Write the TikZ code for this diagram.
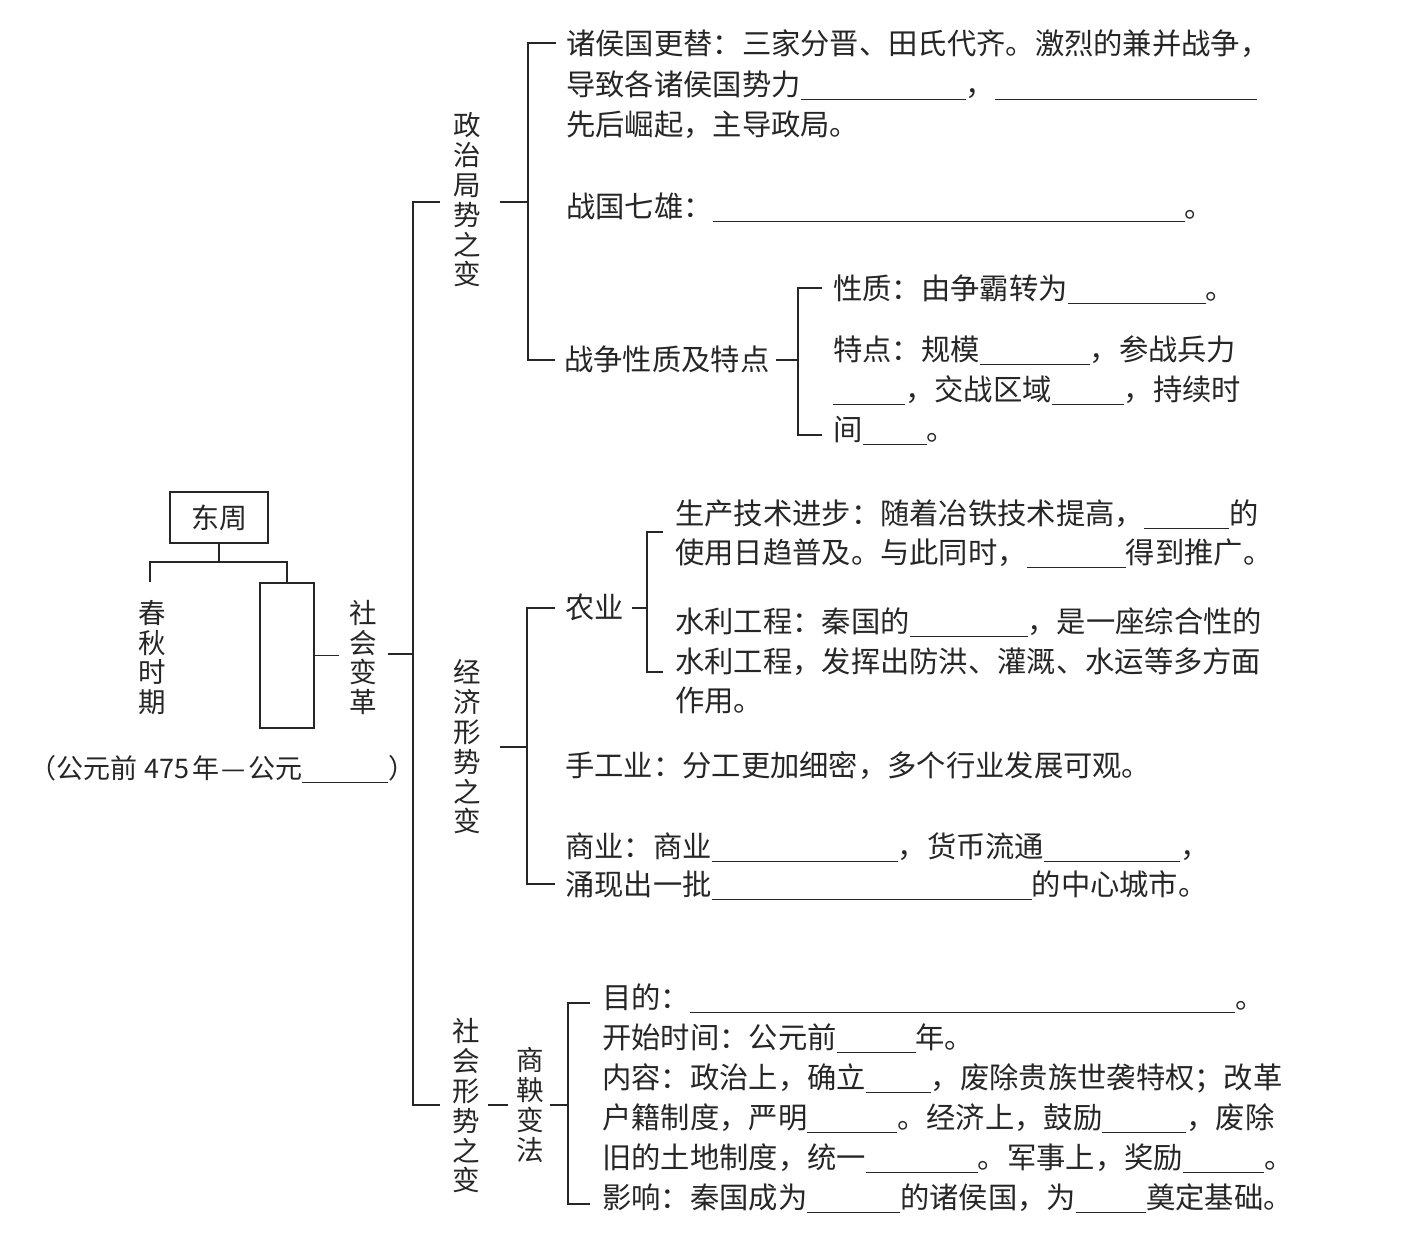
\documentclass[tikz,border=0pt]{standalone}
\usepackage{fontspec}
\setmainfont{Noto Sans CJK SC}
\newcommand\bl[1]{\rule[-4.5pt]{#1pt}{1.1pt}}
\begin{document}
\begin{tikzpicture}[x=1pt,y=-1pt,
  ln/.style={line width=1.5pt,black!85},
  txt/.style={anchor=base west,inner sep=0pt,yshift=-10.5pt,text=black!85,font=\fontsize{29.3}{40}\selectfont},
  vlab/.style={align=center,inner sep=0pt,text=black!85,font=\fontsize{27.5}{29.8}\selectfont},
  boxed/.style={draw,line width=1.5pt,black!85,inner sep=0pt,text=black!85}]
\useasboundingbox[fill=white] (0,0) rectangle (1414,1234);

% ---------- left part
\node[boxed,minimum width=98pt,minimum height=51pt,font=\fontsize{28}{30}\selectfont] (dz) at (219,517.5) {东周};
\node[vlab] (cq) at (152,657.5) {春\\秋\\时\\期};
\node[boxed,minimum width=54pt,minimum height=145pt] (rect) at (287,655.5) {};
\node[vlab] (shbg) at (363,657.5) {社\\会\\变\\革};
\node[txt,font=\fontsize{27}{30}\selectfont] (yr) at (29,768) {（公元前\hspace{7pt}475\hspace{3pt}年\makebox[29pt][c]{—}公元\bl{86}）};
\coordinate (split) at (219,562);
\coordinate (cqtop) at (150,582);
\draw[ln] (dz.south) -- (split);
\draw[ln] (cqtop) |- (split) -| (rect.north);
\coordinate (mtop) at (413,202);
\coordinate (mmid) at (413,654);
\coordinate (mbot) at (413,1105);
\draw[ln] (rect.east) -- ([xshift=24pt]rect.east);
\draw[ln] ([xshift=-25pt]mmid) -- (mmid);
\draw[ln] (440,202) -- (mtop) -- (mbot) -- (440,1105);

% ---------- branch 1
\node[vlab] (zz) at (467,200) {政\\治\\局\\势\\之\\变};
\coordinate (b1) at (528,202);
\draw[ln] (500,202) -- (b1);
\draw[ln] (556,43) -- (528,43) -- (528,360) -- (555,360);
\node[txt] (n1a) at (566,44) {诸侯国更替：三家分晋、田氏代齐。激烈的兼并战争，};
\node[txt] (n1b) at (566,85) {导致各诸侯国势力\bl{165}，\bl{262}};
\node[txt] (n1c) at (566,125) {先后崛起，主导政局。};
\node[txt] (n2) at (566,207) {战国七雄：\bl{472}。};
\node[txt] (n3) at (564,360) {战争性质及特点};
\draw[ln] ([xshift=6pt]n3.east |- 0,360) -- (798,360);
\draw[ln] (822,288) -- (798,288) -- (798,435) -- (822,435);
\node[txt] (n3a) at (833,289) {性质：由争霸转为\bl{138}。};
\node[txt] (n3b) at (833,350) {特点：规模\bl{110}，参战兵力};
\node[txt] (n3c) at (833,390) {\bl{72}，交战区域\bl{72}，持续时};
\node[txt] (n3d) at (833,430) {间\bl{64}。};

% ---------- branch 2
\node[vlab] (jj) at (467,747) {经\\济\\形\\势\\之\\变};
\draw[ln] (500,747) -- (527,747);
\draw[ln] (555,608) -- (527,608) -- (527,884) -- (555,884);
\node[txt] (ny) at (565,608) {农业};
\draw[ln] ([xshift=8pt]ny.east |- 0,608) -- (647,608);
\draw[ln] (663,532) -- (647,532) -- (647,672) -- (663,672);
\node[txt] (n4a) at (675,514) {生产技术进步：随着冶铁技术提高，\bl{85}的};
\node[txt] (n4b) at (675,553) {使用日趋普及。与此同时，\bl{99}得到推广。};
\node[txt] (n4c) at (675,622) {水利工程：秦国的\bl{118}，是一座综合性的};
\node[txt] (n4d) at (675,662) {水利工程，发挥出防洪、灌溉、水运等多方面};
\node[txt] (n4e) at (675,701) {作用。};
\node[txt] (n5) at (565,766) {手工业：分工更加细密，多个行业发展可观。};
\node[txt] (n6a) at (565,847) {商业：商业\bl{186}，货币流通\bl{136}，};
\node[txt] (n6b) at (565,885) {涌现出一批\bl{320}的中心城市。};

% ---------- branch 3
\node[vlab] (sh) at (466,1106) {社\\会\\形\\势\\之\\变};
\node[vlab] (sy) at (530,1105) {商\\鞅\\变\\法};
\draw[ln] (488,1105) -- (508,1105);
\draw[ln] (550,1105) -- (568,1105);
\draw[ln] (590,1003) -- (568,1003) -- (568,1204) -- (590,1204);
\node[txt] (n7a) at (602,998) {目的：\bl{545}。};
\node[txt] (n7b) at (602,1038) {开始时间：公元前\bl{79}年。};
\node[txt] (n7c) at (602,1078) {内容：政治上，确立\bl{65}，废除贵族世袭特权；改革};
\node[txt] (n7d) at (602,1118) {户籍制度，严明\bl{90}。经济上，鼓励\bl{84}，废除};
\node[txt] (n7e) at (602,1158) {旧的土地制度，统一\bl{112}。军事上，奖励\bl{81}。};
\node[txt] (n7f) at (602,1198) {影响：秦国成为\bl{93}的诸侯国，为\bl{70}奠定基础。};
\end{tikzpicture}
\end{document}
